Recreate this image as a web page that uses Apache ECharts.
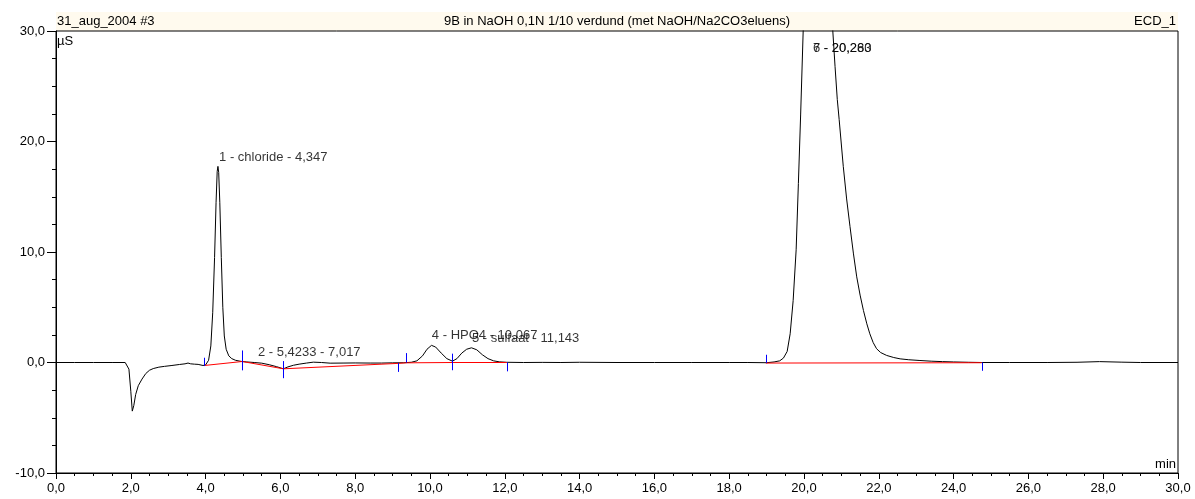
<!DOCTYPE html>
<html><head><meta charset="utf-8">
<script src="https://cdn.jsdelivr.net/npm/echarts@6/dist/echarts.min.js"></script>
<style>html,body{margin:0;padding:0;background:#fff}#c{width:1195px;height:499px}</style>
</head><body><div id="c"></div>
<script>
// ---- data ----
const headerLeft = '31_aug_2004 #3';
const headerTitle = '9B in NaOH 0,1N 1/10 verdund (met NaOH/Na2CO3eluens)';
const headerRight = 'ECD_1';
const yUnit = 'µS';
const xUnit = 'min';

// chromatogram signal [time (min), conductivity (µS)]
const signal = [
  [0.0,0],[0.5,0],[1.0,0],[1.5,0],[1.85,0],[1.9,-0.05],[1.95,-0.6],[2.0,-2.6],[2.04,-4.4],[2.08,-3.9],
  [2.13,-2.9],[2.2,-2.1],[2.3,-1.5],[2.4,-1.0],[2.5,-0.7],[2.6,-0.55],[2.75,-0.42],[2.9,-0.35],[3.1,-0.27],
  [3.3,-0.18],[3.45,-0.12],[3.53,-0.05],[3.6,-0.12],[3.7,-0.15],[3.8,-0.17],[3.93,-0.27],[4.0,-0.22],
  [4.08,0.2],[4.14,1.5],[4.19,4.5],[4.24,9.5],[4.28,14.5],[4.31,17.3],[4.33,17.75],[4.35,17.2],[4.38,14.5],
  [4.42,9.5],[4.46,5.0],[4.5,2.4],[4.55,1.2],[4.62,0.6],[4.7,0.35],[4.8,0.2],[4.95,0.1],[5.1,0.05],
  [5.3,0.0],[5.5,-0.06],[5.7,-0.2],[5.9,-0.38],[6.08,-0.57],[6.2,-0.4],[6.35,-0.25],[6.5,-0.15],[6.7,-0.05],
  [6.88,0.03],[7.1,0.0],[7.33,-0.06],[7.7,-0.05],[8.0,-0.04],[8.4,-0.05],[8.7,-0.05],[9.0,-0.03],[9.3,-0.02],
  [9.5,0.02],[9.65,0.15],[9.8,0.6],[9.92,1.2],[10.04,1.55],[10.15,1.4],[10.3,0.85],[10.45,0.35],[10.6,0.12],
  [10.72,0.35],[10.85,0.85],[10.98,1.2],[11.11,1.33],[11.25,1.15],[11.4,0.7],[11.55,0.35],[11.7,0.15],
  [11.85,0.06],[12.05,0.02],[12.5,0.0],[13.0,0.01],[13.5,0.0],[14.0,0.02],[15.0,0.0],[16.0,0.0],[17.0,0.0],
  [18.0,0.0],[18.5,0.0],[19.0,-0.02],[19.2,0.05],[19.35,0.15],[19.45,0.4],[19.55,1.0],[19.63,2.6],[19.71,5.6],
  [19.79,10.2],[19.85,16.2],[19.91,22.4],[19.98,30.2],[20.05,38],[20.15,46],[20.26,50],[20.4,48],[20.55,42],
  [20.7,34],[20.77,30],[20.83,26.8],[20.89,23.8],[20.94,22.0],[21.05,17.75],[21.14,14.8],[21.23,12.3],
  [21.32,9.9],[21.41,7.75],[21.5,6.1],[21.59,4.7],[21.68,3.5],[21.76,2.6],[21.85,1.8],[21.94,1.25],
  [22.05,0.9],[22.21,0.64],[22.4,0.45],[22.57,0.33],[22.8,0.25],[23.1,0.18],[23.4,0.12],[23.7,0.08],
  [24.0,0.05],[24.4,0.02],[24.75,0.0],[25.5,0.0],[26.5,0.0],[27.3,0.02],[27.9,0.08],[28.5,0.03],[29.0,0.0],[30.0,0.0]
];

// integration baselines (null = gap)
const baseline = [
  [3.97,-0.27],[4.98,0.09],[6.08,-0.57],[9.15,-0.08],[9.36,-0.03],[10.6,0.0],[12.05,0.0],
  null,
  [18.98,-0.05],[24.75,-0.02]
];

// peak delimiter markers
const markerT    = [3.97, 4.98, 6.08, 9.15, 9.36, 10.6, 12.05, 18.98, 24.75];
const markerY    = [-0.27, 0.09, -0.57, -0.05, 0.0, 0.05, 0.0, -0.05, 0.0];
const markerUp   = [0.7, 1.0, 0.7, 0.0, 0.85, 0.75, 0.0, 0.75, 0.0];
const markerDown = [0.05, 0.8, 0.85, 0.8, 0.0, 0.75, 0.8, 0.0, 0.75];

// peak labels
const peakLabelT    = [4.36, 5.40, 10.05, 11.12, 20.24, 20.24];
const peakLabelY    = [18.6, 0.9, 2.45, 2.2, 28.45, 28.45];
const peakLabelText = ['1 - chloride - 4,347','2 - 5,4233 - 7,017','4 - HPO4 - 10,067','5 - sulfaat - 11,143','6 - 20,260','7 - 20,283'];

const xMin = 0, xMax = 30, xStep = 2;
const yMin = -10, yMax = 30, yStep = 10;

// ---- chart ----
const FONT = '"Liberation Sans", Arial, sans-serif';
const fmt = v => v.toFixed(1).replace('.', ',');
const chart = echarts.init(document.getElementById('c'), null, {renderer: 'canvas'});

const markerData = markerT.map((t, i) => [t, markerY[i], markerUp[i], markerDown[i]]);
const labelData = peakLabelT.map((t, i) => ({value: [t, peakLabelY[i]], name: peakLabelText[i]}));

chart.setOption({
  animation: false,
  backgroundColor: '#fff',
  grid: {left: 56, right: 17, top: 31, bottom: 26, show: true, borderColor: '#000', borderWidth: 1, backgroundColor: 'transparent'},
  graphic: [
    {type: 'rect', left: 56, top: 12, shape: {width: 1122, height: 19}, style: {fill: '#FFFAEE'}, z: -1},
    {type: 'text', left: 57, top: 15, style: {text: headerLeft, font: '13px ' + FONT, fill: '#000'}},
    {type: 'text', x: 617, y: 15, style: {text: headerTitle, font: '13px ' + FONT, fill: '#000', textAlign: 'center'}},
    {type: 'text', x: 1176, y: 15, style: {text: headerRight, font: '13px ' + FONT, fill: '#000', textAlign: 'right'}},
    {type: 'text', left: 57, top: 35, style: {text: yUnit, font: '13px ' + FONT, fill: '#000'}},
    {type: 'text', x: 1176, y: 458, style: {text: xUnit, font: '13px ' + FONT, fill: '#000', textAlign: 'right'}}
  ],
  xAxis: {
    type: 'value', min: xMin, max: xMax, interval: xStep,
    axisLine: {onZero: false, lineStyle: {color: '#000', width: 1}},
    axisTick: {show: true, length: 6, lineStyle: {color: '#000'}},
    minorTick: {show: true, splitNumber: 4, length: 3, lineStyle: {color: '#000'}},
    axisLabel: {color: '#000', fontSize: 13, fontFamily: FONT, margin: 9, formatter: fmt, showMinLabel: true, showMaxLabel: true},
    splitLine: {show: false}
  },
  yAxis: {
    type: 'value', min: yMin, max: yMax, interval: yStep,
    axisLine: {onZero: false, lineStyle: {color: '#000', width: 1}},
    axisTick: {show: true, length: 9, lineStyle: {color: '#000'}},
    minorTick: {show: true, splitNumber: 4, length: 4, lineStyle: {color: '#000'}},
    axisLabel: {color: '#000', fontSize: 13, fontFamily: FONT, margin: 11, formatter: fmt},
    splitLine: {show: false}
  },
  series: [
    {type: 'line', data: signal, showSymbol: false, symbol: 'none', clip: true,
     lineStyle: {color: '#000', width: 1}, z: 2},
    {type: 'line', data: baseline.map(p => p === null ? '-' : p), showSymbol: false, symbol: 'none',
     connectNulls: false, lineStyle: {color: '#FF0000', width: 1}, z: 3},
    {type: 'custom', data: markerData, z: 4,
     renderItem: (params, api) => {
       const t = api.value(0), y = api.value(1), up = api.value(2), dn = api.value(3);
       const a = api.coord([t, y + up]), b = api.coord([t, y - dn]);
       const x = Math.round(a[0]) + 0.5;
       return {type: 'line', shape: {x1: x, y1: a[1], x2: x, y2: b[1]}, style: {stroke: '#0000FF', lineWidth: 1}};
     }},
    {type: 'scatter', data: labelData, symbolSize: 0, z: 5,
     label: {show: true, position: 'right', distance: 0, formatter: p => p.name, color: '#000', fontSize: 13, fontFamily: FONT},
     labelLayout: {hideOverlap: false}}
  ]
});
</script>
</body></html>
